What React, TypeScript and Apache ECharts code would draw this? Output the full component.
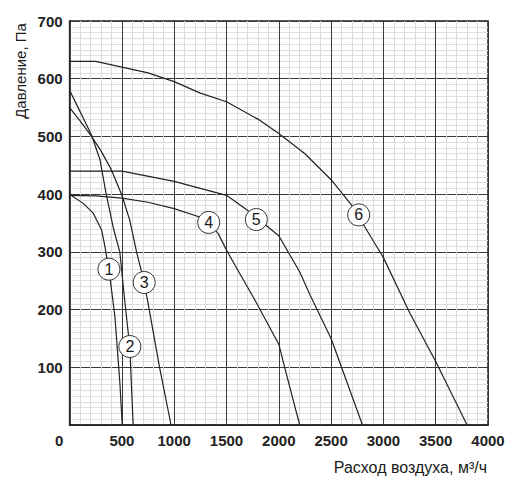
import * as echarts from 'echarts';
import React, { useEffect, useRef } from 'react';

// air flow (m³/h) vs pressure (Pa) for each fan curve
const curve1 = [[0, 400], [130, 384], [226, 367], [306, 338], [338, 309], [385, 257], [433, 188], [481, 72], [503, 0]];
const curve2 = [[0, 580], [100, 543], [210, 502], [290, 460], [350, 400], [420, 340], [480, 300], [530, 210], [575, 136], [608, 0]];
const curve3 = [[0, 550], [100, 527], [210, 500], [300, 475], [400, 442], [500, 398], [575, 355], [640, 300], [713, 247], [750, 211], [860, 100], [970, 0]];
const curve4 = [[0, 398], [250, 397], [500, 393], [750, 386], [1000, 375], [1250, 360], [1330, 350], [1420, 332], [1500, 303], [1625, 263], [1770, 217], [2000, 140], [2070, 90], [2200, 0]];
const curve5 = [[0, 440], [500, 440], [1000, 422], [1500, 398], [1700, 372], [2000, 328], [2200, 265], [2300, 225], [2500, 150], [2800, 0]];
const curve6 = [[0, 630], [250, 630], [500, 620], [750, 610], [1000, 595], [1250, 575], [1500, 560], [1800, 530], [2000, 505], [2250, 470], [2500, 425], [2700, 380], [2950, 305], [3000, 290], [3250, 195], [3500, 110], [3800, 0]];
const curves = [curve1, curve2, curve3, curve4, curve5, curve6];

const curveLabels = ['1', '2', '3', '4', '5', '6'];
const labelPoints = [[376, 270], [576, 136], [713, 247], [1330, 351], [1785, 356], [2764, 364]];

const xName = 'Расход воздуха, м³/ч';
const yName = 'Давление, Па';

const font = '"Liberation Sans", Arial, sans-serif';

const App: React.FC = () => {
  const chartRef = useRef<HTMLDivElement>(null);

  useEffect(() => {
    if (!chartRef.current) return;
    const chart = echarts.init(chartRef.current, undefined, { renderer: 'svg' });

    const lineSeries = curves.map((c, i) => ({
      type: 'line' as const,
      name: curveLabels[i],
      data: c,
      showSymbol: false,
      symbol: 'none',
      lineStyle: { color: '#222', width: 1.2 },
      z: 3,
    }));

    chart.setOption({
      animation: false,
      backgroundColor: '#fff',
      grid: {
        left: 69.6,
        right: 31,
        top: 21,
        bottom: 61,
        show: true,
        borderColor: '#222',
        borderWidth: 1.5,
      },
      xAxis: {
        type: 'value',
        min: 0,
        max: 4000,
        interval: 500,
        axisLine: { show: true, lineStyle: { color: '#222', width: 1.5 } },
        axisTick: { show: false },
        axisLabel: {
          margin: 8,
          color: '#222',
          fontSize: 15,
          fontWeight: 'bold',
          fontFamily: font,
          formatter: (v: number) => (v === 0 ? '{z|0}' : String(v)),
          rich: {
            z: { fontSize: 15, fontWeight: 'bold', fontFamily: font, color: '#222', padding: [0, 21, 0, 0] },
          },
        },
        splitLine: { show: true, lineStyle: { color: '#3a3a3a', width: 1 } },
        minorTick: { show: false, splitNumber: 5 },
        minorSplitLine: { show: true, lineStyle: { color: '#d9d9d9', width: 1 } },
      },
      yAxis: {
        type: 'value',
        min: 0,
        max: 700,
        interval: 100,
        axisLine: { show: true, lineStyle: { color: '#222', width: 1.5 } },
        axisTick: { show: false },
        axisLabel: {
          margin: 7,
          color: '#222',
          fontSize: 15,
          fontWeight: 'bold',
          fontFamily: font,
          showMinLabel: false,
        },
        splitLine: { show: true, lineStyle: { color: '#3a3a3a', width: 1 } },
        minorTick: { show: false, splitNumber: 10 },
        minorSplitLine: { show: true, lineStyle: { color: '#dedede', width: 1 } },
      },
      graphic: [
        {
          type: 'text',
          x: 20,
          y: 71,
          rotation: Math.PI / 2,
          style: {
            text: yName,
            fill: '#1a1a1a',
            font: `15px ${font}`,
            textAlign: 'center',
            textVerticalAlign: 'middle',
          },
        },
        {
          type: 'text',
          x: 487,
          y: 467,
          style: {
            text: xName,
            fill: '#1a1a1a',
            font: `16px ${font}`,
            textAlign: 'right',
            textVerticalAlign: 'middle',
          },
        },
      ],
      series: [
        ...lineSeries,
        {
          type: 'scatter',
          data: labelPoints.map((p, i) => ({ value: p, name: curveLabels[i] })),
          symbol: 'circle',
          symbolSize: 22,
          itemStyle: { color: '#fff', borderColor: '#333', borderWidth: 1, opacity: 1 },
          label: {
            show: true,
            position: 'inside',
            formatter: '{b}',
            color: '#1a1a1a',
            fontSize: 16,
            fontFamily: font,
          },
          z: 5,
        },
      ],
    });

    return () => {
      chart.dispose();
    };
  }, []);

  return <div ref={chartRef} style={{ position: 'fixed', left: 0, top: 0, width: 519, height: 486 }} />;
};

export default App;
